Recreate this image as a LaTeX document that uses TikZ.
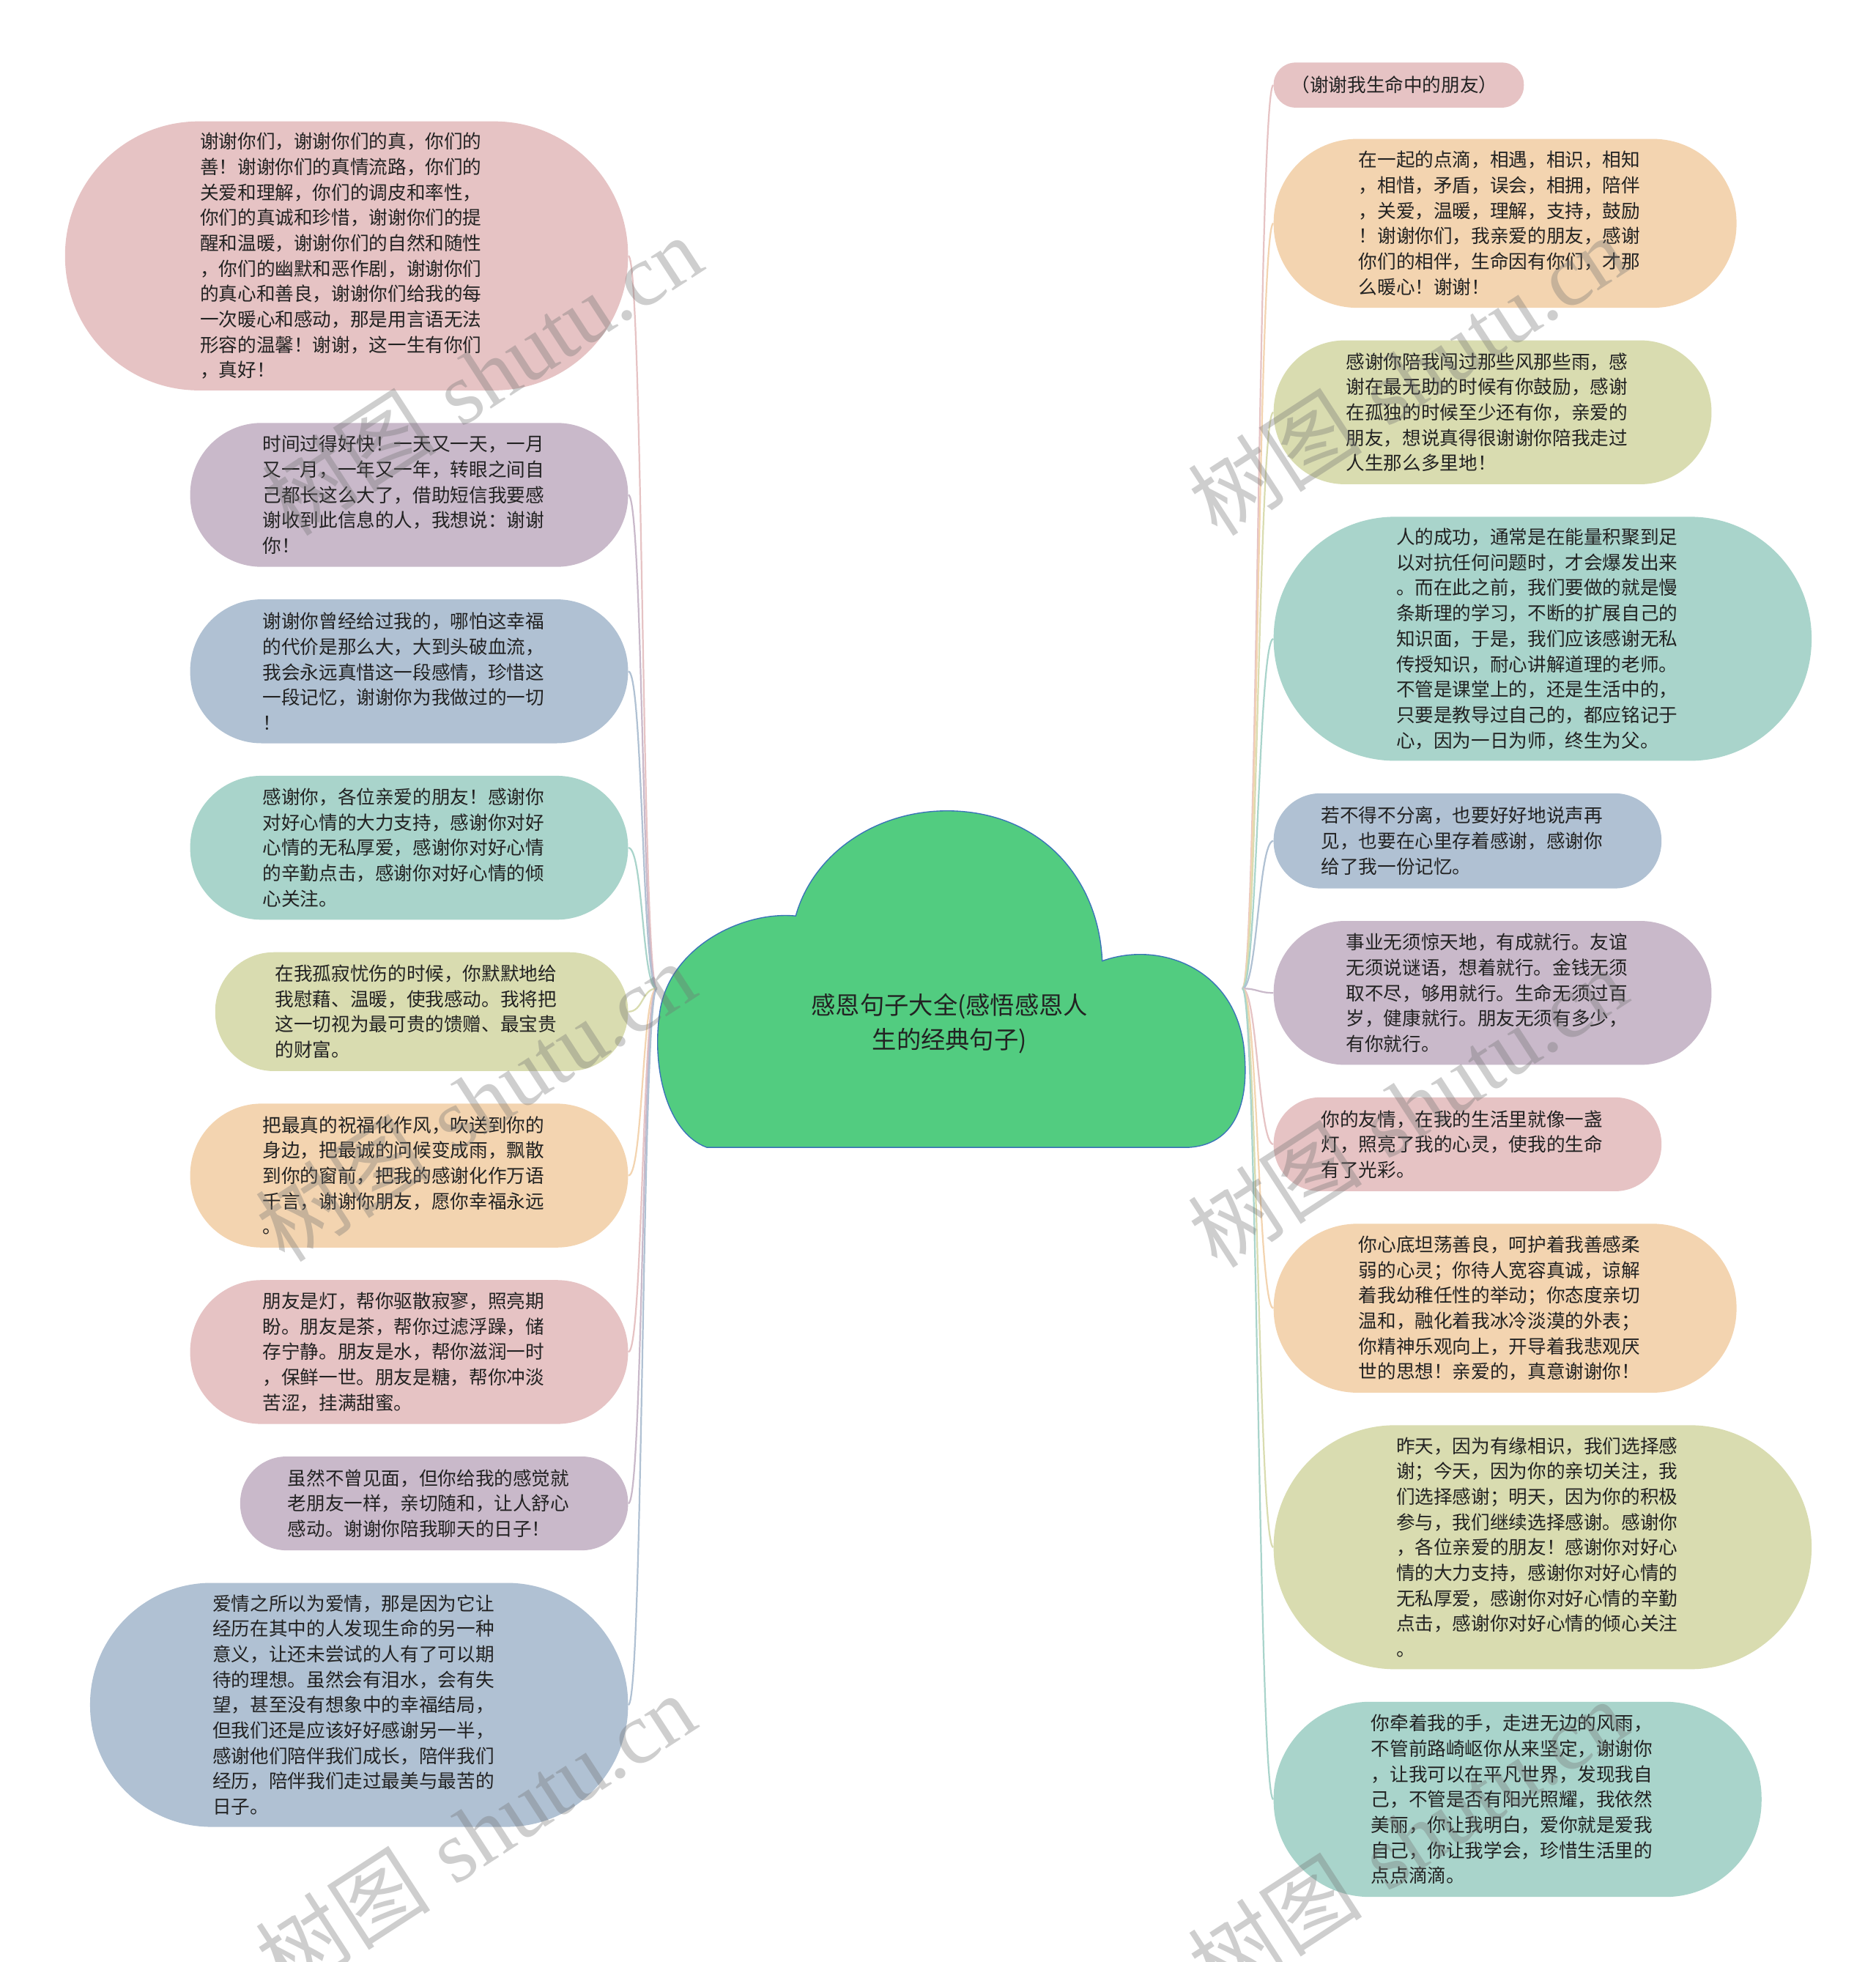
\documentclass[tikz,border=0pt]{standalone}
\usepackage{fontspec}
\newfontfamily\cjk{Noto Sans CJK SC}
\newfontfamily\wmserif{Liberation Serif}
\definecolor{pinkC}{HTML}{E6C3C4}
\definecolor{purpC}{HTML}{C9B9CA}
\definecolor{blueC}{HTML}{B0C1D3}
\definecolor{tealC}{HTML}{A9D4CB}
\definecolor{oliveC}{HTML}{D9DCB0}
\definecolor{peachC}{HTML}{F3D4B0}
\definecolor{cloudC}{HTML}{52CC80}
\definecolor{cloudB}{HTML}{3A73B8}
\definecolor{txt}{HTML}{222222}
\tikzset{
  box/.style={draw=none, inner sep=0pt, align=left, text=txt, text width=234pt,
    font=\cjk\fontsize{15}{20.3}\selectfont},
  conn/.style={draw=#1, line width=1.3pt},
  wm/.style={text=black!55, opacity=0.35, rotate=33, inner sep=0pt,
    font=\fontsize{70}{80}\selectfont}
}
\begin{document}
\begin{tikzpicture}[x=1pt,y=-1pt]
\useasboundingbox (0,0) rectangle (1499,1568);
\fill[white] (0,0) rectangle (1499,1568);

% central cloud
\filldraw[fill=cloudC, draw=cloudB, line width=0.8pt]
  (565,917) .. controls (532,905) and (520,850) .. (528,805)
  .. controls (538,755) and (595,728) .. (636,732)
  .. controls (650,682) and (700,648) .. (757,648)
  .. controls (830,648) and (878,700) .. (881,768)
  .. controls (925,752) and (985,772) .. (994,835)
  .. controls (1000,885) and (985,915) .. (950,917) -- cycle;
\node[align=center, text=txt, font=\cjk\fontsize{19.5}{27}\selectfont] (root) at (759,818)
  {感恩句子大全(感悟感恩人\\生的经典句子)};
\coordinate (rootL) at (525,790);
\coordinate (rootR) at (993,790);

% left nodes
\node[box, fill=pinkC, minimum width=450pt, minimum height=215pt, rounded corners=107pt] (L1) at (277,204.5)
  {谢谢你们，谢谢你们的真，你们的\\善！谢谢你们的真情流路，你们的\\关爱和理解，你们的调皮和率性，\\你们的真诚和珍惜，谢谢你们的提\\醒和温暖，谢谢你们的自然和随性\\，你们的幽默和恶作剧，谢谢你们\\的真心和善良，谢谢你们给我的每\\一次暖心和感动，那是用言语无法\\形容的温馨！谢谢，这一生有你们\\，真好！};
\node[box, fill=purpC, minimum width=350pt, minimum height=115pt, rounded corners=57pt] (L2) at (327,395.5)
  {时间过得好快！一天又一天，一月\\又一月，一年又一年，转眼之间自\\己都长这么大了，借助短信我要感\\谢收到此信息的人，我想说：谢谢\\你！};
\node[box, fill=blueC, minimum width=350pt, minimum height=115pt, rounded corners=57pt] (L3) at (327,536.5)
  {谢谢你曾经给过我的，哪怕这幸福\\的代价是那么大，大到头破血流，\\我会永远真惜这一段感情，珍惜这\\一段记忆，谢谢你为我做过的一切\\！};
\node[box, fill=tealC, minimum width=350pt, minimum height=115pt, rounded corners=57pt] (L4) at (327,677.5)
  {感谢你，各位亲爱的朋友！感谢你\\对好心情的大力支持，感谢你对好\\心情的无私厚爱，感谢你对好心情\\的辛勤点击，感谢你对好心情的倾\\心关注。};
\node[box, fill=oliveC, minimum width=330pt, minimum height=95pt, rounded corners=47pt] (L5) at (337,808.5)
  {在我孤寂忧伤的时候，你默默地给\\我慰藉、温暖，使我感动。我将把\\这一切视为最可贵的馈赠、最宝贵\\的财富。};
\node[box, fill=peachC, minimum width=350pt, minimum height=115pt, rounded corners=57pt] (L6) at (327,939.5)
  {把最真的祝福化作风，吹送到你的\\身边，把最诚的问候变成雨，飘散\\到你的窗前，把我的感谢化作万语\\千言，谢谢你朋友，愿你幸福永远\\。};
\node[box, fill=pinkC, minimum width=350pt, minimum height=115pt, rounded corners=57pt] (L7) at (327,1080.5)
  {朋友是灯，帮你驱散寂寥，照亮期\\盼。朋友是茶，帮你过滤浮躁，储\\存宁静。朋友是水，帮你滋润一时\\，保鲜一世。朋友是糖，帮你冲淡\\苦涩，挂满甜蜜。};
\node[box, fill=purpC, minimum width=310pt, minimum height=75pt, rounded corners=37pt] (L8) at (347,1201.5)
  {虽然不曾见面，但你给我的感觉就\\老朋友一样，亲切随和，让人舒心\\感动。谢谢你陪我聊天的日子！};
\node[box, fill=blueC, minimum width=430pt, minimum height=195pt, rounded corners=97pt] (L9) at (287,1362.5)
  {爱情之所以为爱情，那是因为它让\\经历在其中的人发现生命的另一种\\意义，让还未尝试的人有了可以期\\待的理想。虽然会有泪水，会有失\\望，甚至没有想象中的幸福结局，\\但我们还是应该好好感谢另一半，\\感谢他们陪伴我们成长，陪伴我们\\经历，陪伴我们走过最美与最苦的\\日子。};

% right nodes
\node[box, text width=172pt, fill=pinkC, minimum width=200pt, minimum height=36pt, rounded corners=17.5pt] (R1) at (1118,68)
  {（谢谢我生命中的朋友）};
\node[box, fill=peachC, minimum width=370pt, minimum height=135pt, rounded corners=67pt] (R2) at (1203,178.5)
  {在一起的点滴，相遇，相识，相知\\，相惜，矛盾，误会，相拥，陪伴\\，关爱，温暖，理解，支持，鼓励\\！谢谢你们，我亲爱的朋友，感谢\\你们的相伴，生命因有你们，才那\\么暖心！谢谢！};
\node[box, fill=oliveC, minimum width=350pt, minimum height=115pt, rounded corners=57pt] (R3) at (1193,329.5)
  {感谢你陪我闯过那些风那些雨，感\\谢在最无助的时候有你鼓励，感谢\\在孤独的时候至少还有你，亲爱的\\朋友，想说真得很谢谢你陪我走过\\人生那么多里地！};
\node[box, fill=tealC, minimum width=430pt, minimum height=195pt, rounded corners=97pt] (R4) at (1233,510.5)
  {人的成功，通常是在能量积聚到足\\以对抗任何问题时，才会爆发出来\\。而在此之前，我们要做的就是慢\\条斯理的学习，不断的扩展自己的\\知识面，于是，我们应该感谢无私\\传授知识，耐心讲解道理的老师。\\不管是课堂上的，还是生活中的，\\只要是教导过自己的，都应铭记于\\心，因为一日为师，终生为父。};
\node[box, fill=blueC, minimum width=310pt, minimum height=76pt, rounded corners=37.5pt] (R5) at (1173,672)
  {若不得不分离，也要好好地说声再\\见，也要在心里存着感谢，感谢你\\给了我一份记忆。};
\node[box, fill=purpC, minimum width=350pt, minimum height=115pt, rounded corners=57pt] (R6) at (1193,793.5)
  {事业无须惊天地，有成就行。友谊\\无须说谜语，想着就行。金钱无须\\取不尽，够用就行。生命无须过百\\岁，健康就行。朋友无须有多少，\\有你就行。};
\node[box, fill=pinkC, minimum width=310pt, minimum height=75pt, rounded corners=37pt] (R7) at (1173,914.5)
  {你的友情，在我的生活里就像一盏\\灯，照亮了我的心灵，使我的生命\\有了光彩。};
\node[box, fill=peachC, minimum width=370pt, minimum height=135pt, rounded corners=67pt] (R8) at (1203,1045.5)
  {你心底坦荡善良，呵护着我善感柔\\弱的心灵；你待人宽容真诚，谅解\\着我幼稚任性的举动；你态度亲切\\温和，融化着我冰冷淡漠的外表；\\你精神乐观向上，开导着我悲观厌\\世的思想！亲爱的，真意谢谢你！};
\node[box, fill=oliveC, minimum width=430pt, minimum height=195pt, rounded corners=97pt] (R9) at (1233,1236.5)
  {昨天，因为有缘相识，我们选择感\\谢；今天，因为你的亲切关注，我\\们选择感谢；明天，因为你的积极\\参与，我们继续选择感谢。感谢你\\，各位亲爱的朋友！感谢你对好心\\情的大力支持，感谢你对好心情的\\无私厚爱，感谢你对好心情的辛勤\\点击，感谢你对好心情的倾心关注\\。};
\node[box, fill=tealC, minimum width=390pt, minimum height=156pt, rounded corners=77pt] (R10) at (1213,1438)
  {你牵着我的手，走进无边的风雨，\\不管前路崎岖你从来坚定，谢谢你\\，让我可以在平凡世界，发现我自\\己，不管是否有阳光照耀，我依然\\美丽，你让我明白，爱你就是爱我\\自己，你让我学会，珍惜生活里的\\点点滴滴。};

% connectors left
\foreach \n/\c in {L1/pinkC,L2/purpC,L3/blueC,L4/tealC,L5/oliveC,L6/peachC,L7/pinkC,L8/purpC,L9/blueC}
  \draw[conn=\c] (rootL) .. controls +(-12,0) and +(12,0) .. (\n.east);
% connectors right
\foreach \n/\c in {R1/pinkC,R2/peachC,R3/oliveC,R4/tealC,R5/blueC,R6/purpC,R7/pinkC,R8/peachC,R9/oliveC,R10/tealC}
  \draw[conn=\c] (rootR) .. controls +(12,0) and +(-12,0) .. (\n.west);

% watermarks
\node[wm] (w1) at (385,300) {{\cjk 树图} {\wmserif shutu.cn}};
\node[wm] (w2) at (380,880) {{\cjk 树图} {\wmserif shutu.cn}};
\node[wm] (w3) at (380,1465) {{\cjk 树图} {\wmserif shutu.cn}};
\node[wm] (w4) at (1125,300) {{\cjk 树图} {\wmserif shutu.cn}};
\node[wm] (w5) at (1125,885) {{\cjk 树图} {\wmserif shutu.cn}};
\node[wm] (w6) at (1125,1470) {{\cjk 树图} {\wmserif shutu.cn}};
\end{tikzpicture}
\end{document}
